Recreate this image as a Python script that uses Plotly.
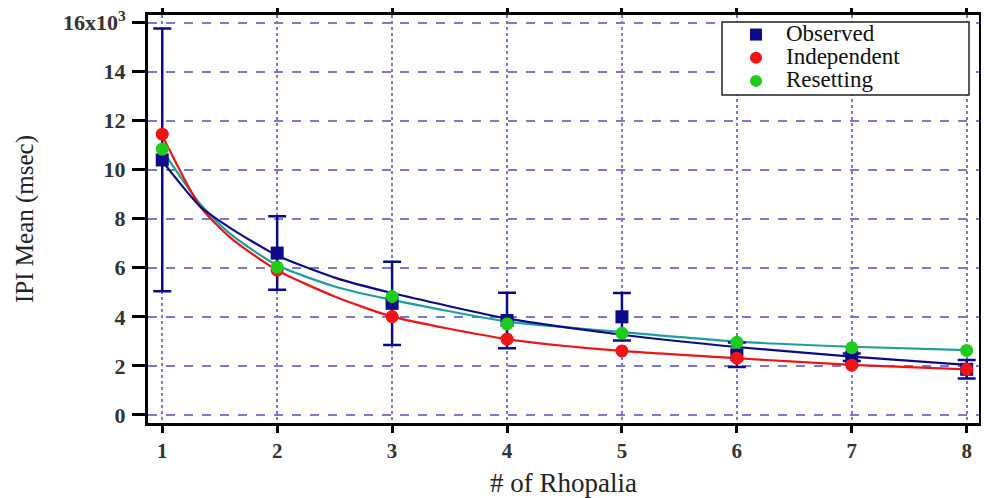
import plotly.graph_objects as go

# ---- data ----
rhopalia = [1, 2, 3, 4, 5, 6, 7, 8]
observed = [10.4, 6.6, 4.55, 3.85, 4.0, 2.45, 2.35, 1.86]
observed_err = [5.36, 1.5, 1.7, 1.13, 0.97, 0.5, 0.15, 0.38]
independent = [11.45, 5.9, 4.01, 3.09, 2.61, 2.31, 2.03, 1.86]
resetting = [10.84, 6.03, 4.83, 3.71, 3.33, 2.96, 2.74, 2.63]

# fitted curves
fit_x = [1, 1.33, 1.6, 2, 2.5, 3, 4, 5, 6, 7, 8]
fit_observed = [10.35, 8.5, 7.6, 6.5, 5.6, 4.97, 3.93, 3.27, 2.77, 2.38, 2.04]
fit_independent = [11.4, 8.5, 7.2, 5.9, 4.83, 4.01, 3.09, 2.61, 2.31, 2.04, 1.86]
fit_resetting = [10.8, 8.6, 7.35, 6.1, 5.24, 4.69, 3.81, 3.38, 2.99, 2.78, 2.64]

series_names = ["Observed", "Independent", "Resetting"]
y_tickvals = [0, 2, 4, 6, 8, 10, 12, 14, 16]
y_ticktext = ["0", "2", "4", "6", "8", "10", "12", "14", "16x10<sup>3</sup>"]

NAVY = "#0b0b8a"
RED = "#f01414"
GREEN = "#1ecc1e"
TEAL = "#1f9e9e"
FONT = "Liberation Serif"

# the page body has an 8px margin, so the figure is drawn 8px right/down
OFF = 8
W, H = 989 - OFF, 498 - OFF
L, R, T, B = 148 - OFF, 10, 15 - OFF, 75
PW = W - L - R
PH = H - T - B


def px_x(p):  # page pixel -> paper x
    return (p - 148) / PW


def px_y(p):  # page pixel -> paper y
    return (423 - p) / PH


def big(name):
    return "<span style='font-size:23px'>" + name + "</span>"


fig = go.Figure()

for fy, col in [(fit_resetting, TEAL), (fit_independent, RED), (fit_observed, NAVY)]:
    fig.add_trace(go.Scatter(x=fit_x, y=fy, mode="lines",
                             line=dict(color=col, width=2.2, shape="spline", smoothing=0.6),
                             showlegend=False, hoverinfo="skip"))

fig.add_trace(go.Scatter(x=rhopalia, y=observed, mode="markers", name=big(series_names[0]),
                         marker=dict(symbol="square", size=13, color=NAVY),
                         error_y=dict(type="data", array=observed_err, color=NAVY,
                                      thickness=2.5, width=9)))
fig.add_trace(go.Scatter(x=rhopalia, y=independent, mode="markers", name=big(series_names[1]),
                         marker=dict(symbol="circle", size=13, color=RED)))
fig.add_trace(go.Scatter(x=rhopalia, y=resetting, mode="markers", name=big(series_names[2]),
                         marker=dict(symbol="circle", size=13, color=GREEN)))

fig.update_layout(
    width=W, height=H,
    margin=dict(l=L, r=R, t=T, b=B, autoexpand=False),
    paper_bgcolor="white", plot_bgcolor="white",
    font=dict(family=FONT, color="#222"),
    showlegend=True,
    legend=dict(x=px_x(726), y=px_y(18), xanchor="left", yanchor="top",
                bgcolor="rgba(0,0,0,0)", borderwidth=0,
                font=dict(family=FONT, size=15.5, color="#111"),
                itemwidth=50, itemsizing="constant", tracegroupgap=0),
    shapes=[dict(type="rect", xref="paper", yref="paper",
                 x0=px_x(722), x1=px_x(969), y0=px_y(95), y1=px_y(22),
                 line=dict(color="#222", width=1.5), fillcolor="white", layer="above")],
    xaxis=dict(range=[0.876, 8.107], tickvals=rhopalia, ticks="outside", ticklen=7,
               tickwidth=3, tickcolor="black", showline=True, linewidth=3,
               linecolor="black", mirror="allticks", showgrid=True,
               gridcolor="#7878d8", gridwidth=2, griddash="dot", zeroline=False,
               automargin=False, ticklabelstandoff=0,
               tickfont=dict(family=FONT, size=21, weight="bold", color="#333")),
    yaxis=dict(range=[-0.33, 16.31], tickvals=y_tickvals, ticktext=y_ticktext,
               ticks="outside", ticklen=13, tickwidth=3, tickcolor="black",
               showline=True, linewidth=3, linecolor="black", mirror="allticks",
               showgrid=True, gridcolor="#7878d8", gridwidth=1.5, griddash="dash",
               zeroline=False, automargin=False, ticklabelstandoff=2,
               ticklabeloverflow="allow",
               tickfont=dict(family=FONT, size=22, weight="bold", color="#333")),
    annotations=[
        dict(text="IPI Mean (msec)", x=px_x(25), y=0.5, xref="paper", yref="paper",
             xanchor="center", yanchor="middle", showarrow=False, textangle=-90,
             font=dict(family=FONT, size=25, color="#222")),
        dict(text="# of Rhopalia", x=0.5, y=px_y(483), xref="paper", yref="paper",
             xanchor="center", yanchor="middle", showarrow=False,
             font=dict(family=FONT, size=27, color="#222")),
    ],
)

fig.write_html("out.html")
